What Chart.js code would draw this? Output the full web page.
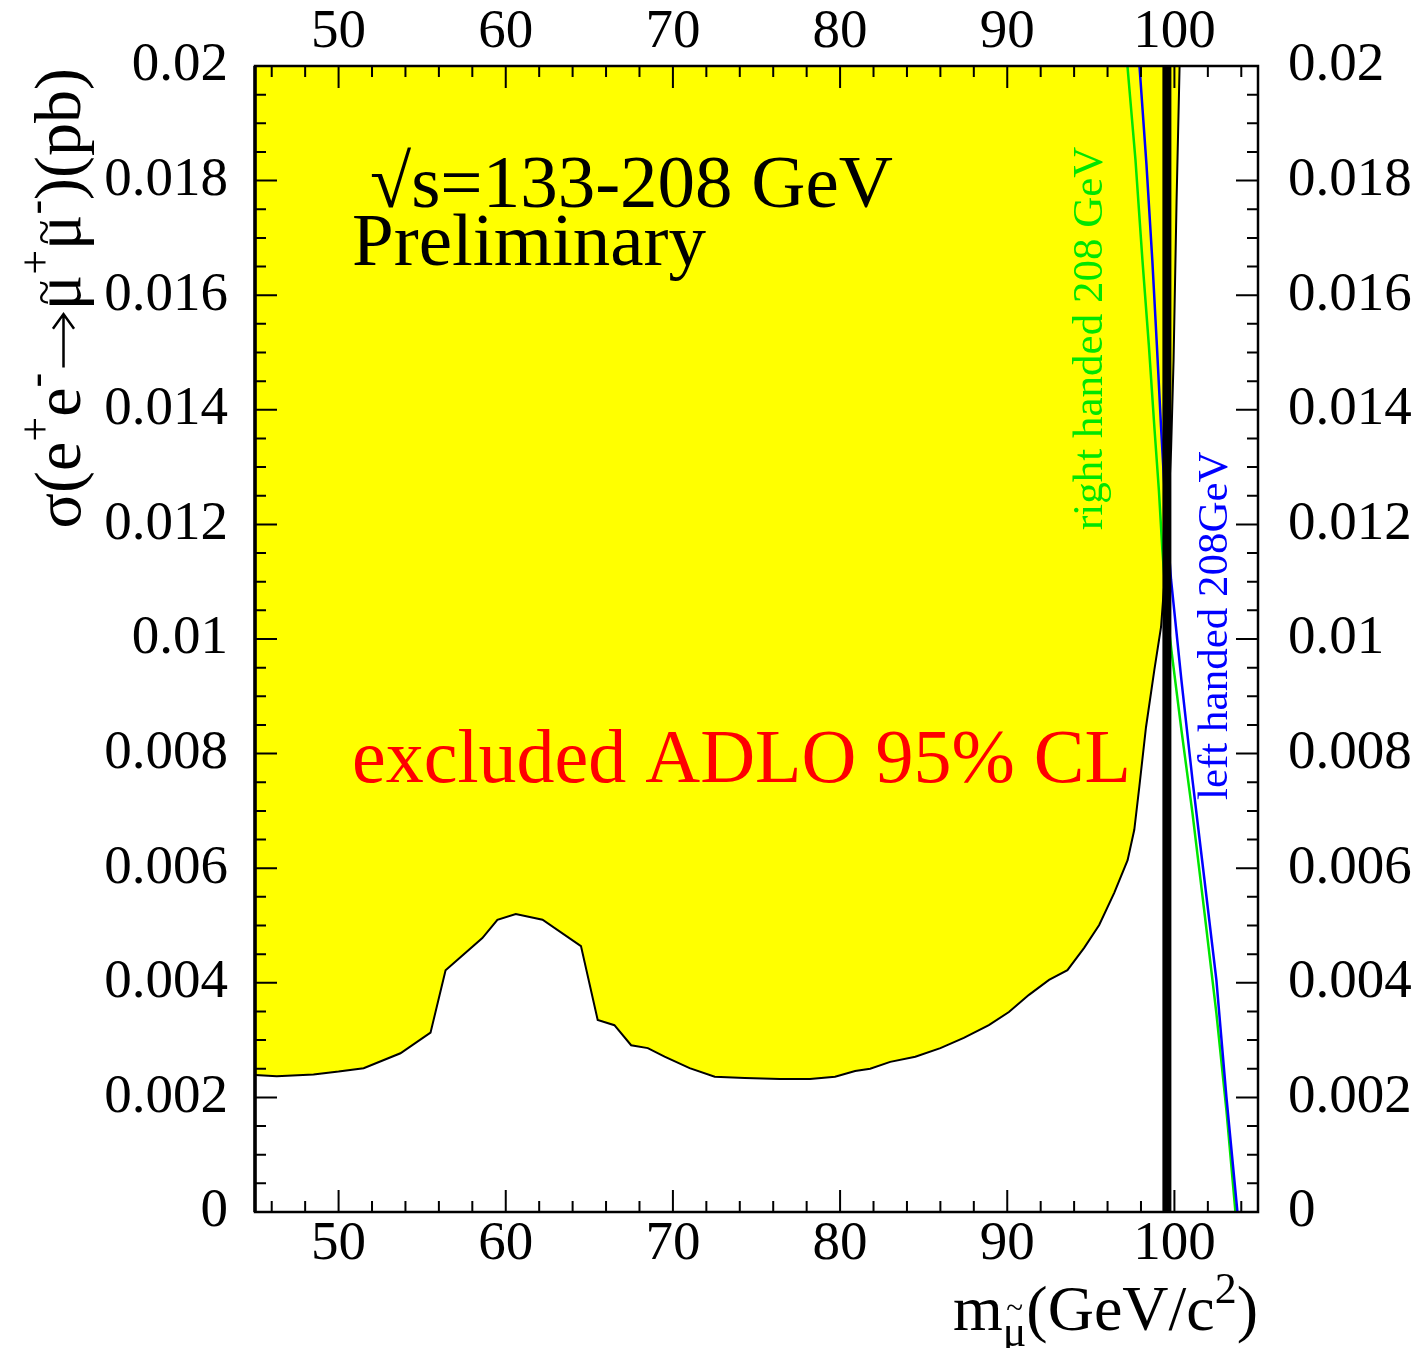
<!DOCTYPE html>
<html>
<head>
<meta charset="utf-8">
<script src="https://cdn.jsdelivr.net/npm/chart.js@4/dist/chart.umd.min.js"></script>
<style>
html,body{margin:0;padding:0;background:#fff;}
#plot{display:block;}
</style>
</head>
<body>
<canvas id="plot" width="1416" height="1348"></canvas>
<script>
const SERIF='"Liberation Serif", "Times New Roman", serif';

// excluded region boundary (95% CL upper limit)
const massBound=[45.0,46.3,48.5,50.0,51.5,53.7,55.5,56.4,58.6,59.5,60.6,62.2,64.5,65.5,66.5,67.5,68.5,69.5,71.0,72.5,74.3,76.4,78.2,79.7,80.9,81.8,83.0,84.5,86.0,87.4,88.9,90.1,91.3,92.5,93.6,94.6,95.5,96.4,97.2,97.6,97.9,98.3,98.8,99.2,99.5,99.8,99.95,100.13,100.31];
const sigmaBound=[0.00239,0.00237,0.00240,0.00245,0.00251,0.00277,0.00313,0.00422,0.00478,0.00510,0.00520,0.00510,0.00464,0.00335,0.00326,0.00291,0.00286,0.00271,0.00251,0.00236,0.00234,0.00232,0.00232,0.00236,0.00246,0.00250,0.00262,0.00271,0.00286,0.00304,0.00326,0.00349,0.00379,0.00405,0.00422,0.00461,0.00501,0.00557,0.00614,0.00667,0.00742,0.00846,0.00946,0.01021,0.01138,0.0133,0.01487,0.01766,0.02];

// expected cross sections at 208 GeV
const massRight=[97.19,97.67,98.09,98.47,98.80,99.07,99.28,99.52,99.82,100.42,101.08,101.80,102.51,103.11,103.65];
const sigmaRight=[0.0200,0.01836,0.0166,0.01513,0.0137,0.0126,0.01155,0.01059,0.0098,0.00841,0.00696,0.00522,0.00347,0.00178,0];
const massLeft=[97.91,98.33,98.68,98.95,99.20,99.46,99.80,100.42,101.08,101.80,102.51,103.11,103.77];
const sigmaLeft=[0.0200,0.01827,0.0166,0.01513,0.0137,0.01234,0.01103,0.00928,0.00754,0.00579,0.00405,0.00201,0];

// mass limit line
const limitMass=[99.55,99.55];
const limitSigma=[0,0.02];

const massTicks=[50,60,70,80,90,100];
const sigmaTicks=[0,0.002,0.004,0.006,0.008,0.01,0.012,0.014,0.016,0.018,0.02];

function pts(xs,ys){ return xs.map((x,i)=>({x:x,y:ys[i]})); }

function massAxis(pos,h){
  return {
    type:'linear',position:pos,min:45,max:105,
    grid:{display:false,drawTicks:false},border:{display:false},
    ticks:{color:'#000',font:{family:SERIF,size:55},padding:0,maxRotation:0,autoSkip:false},
    afterBuildTicks:s=>{ s.ticks=massTicks.map(v=>({value:v})); },
    afterFit:s=>{ s.height=h; }
  };
}
function sigmaAxis(pos,w,pad){
  return {
    type:'linear',position:pos,min:0,max:0.02,
    grid:{display:false,drawTicks:false},border:{display:false},
    ticks:{color:'#000',font:{family:SERIF,size:55},padding:pad,autoSkip:false,
      callback:v=>String(parseFloat(v.toFixed(4)))},
    afterBuildTicks:s=>{ s.ticks=sigmaTicks.map(v=>({value:v})); },
    afterFit:s=>{ s.width=w; }
  };
}

// text made of pieces: [text, size, baseline shift, tilde offset]; '->' is a drawn arrow
function drawRich(ctx,parts,x,y,align){
  let total=0;
  parts.forEach(p=>{
    ctx.font=p[1]+'px '+SERIF;
    p.w=p[0]==='->'?p[1]*0.95:ctx.measureText(p[0]).width;
    total+=p.w;
  });
  let cx=align==='right'?x-total:x;
  ctx.textAlign='left';
  ctx.textBaseline='alphabetic';
  parts.forEach(p=>{
    if(p[0]==='->'){
      const ay=y-p[1]*0.25, x0=cx+p[1]*0.08, x1=cx+p.w-p[1]*0.06;
      ctx.save();
      ctx.strokeStyle=ctx.fillStyle;
      ctx.lineWidth=2.5;
      ctx.beginPath();
      ctx.moveTo(x0,ay); ctx.lineTo(x1,ay);
      ctx.moveTo(x1-p[1]*0.22,ay-p[1]*0.16); ctx.lineTo(x1,ay); ctx.lineTo(x1-p[1]*0.22,ay+p[1]*0.16);
      ctx.stroke();
      ctx.restore();
    }else{
      ctx.font=p[1]+'px '+SERIF;
      ctx.fillText(p[0],cx,y+p[2]);
      if(p[3]){
        ctx.font=Math.round(p[1]*0.7)+'px '+SERIF;
        ctx.textAlign='center';
        ctx.fillText('~',cx+p.w/2,y+p[2]+p[3]);
        ctx.textAlign='left';
      }
    }
    cx+=p.w;
  });
}

const decor={
  id:'decor',
  afterDatasetsDraw(chart){
    const {ctx,chartArea:a,scales:{x,y}}=chart;
    ctx.save();
    ctx.strokeStyle='#000';
    ctx.lineWidth=2;
    ctx.beginPath();
    for(let m=46;m<=104;m+=2){
      const px=x.getPixelForValue(m);
      const len=m%10===0?22:11;
      ctx.moveTo(px,a.bottom); ctx.lineTo(px,a.bottom-len);
      ctx.moveTo(px,a.top); ctx.lineTo(px,a.top+len);
    }
    for(let k=1;k<40;k++){
      const py=y.getPixelForValue(k*0.0005);
      const len=k%4===0?22:11;
      ctx.moveTo(a.left,py); ctx.lineTo(a.left+len,py);
      ctx.moveTo(a.right,py); ctx.lineTo(a.right-len,py);
    }
    ctx.stroke();
    ctx.lineWidth=2.5;
    ctx.strokeRect(a.left,a.top,a.right-a.left,a.bottom-a.top);
    ctx.lineWidth=3.5;
    ctx.beginPath();
    ctx.moveTo(a.left,a.top); ctx.lineTo(a.left,a.bottom);
    ctx.stroke();
    ctx.restore();
  },
  afterDraw(chart){
    const ctx=chart.ctx;
    ctx.save();
    ctx.fillStyle='#000';
    ctx.textBaseline='alphabetic';
    ctx.font='75px '+SERIF;
    ctx.fillText('\u221As=133-208 GeV',370,207);
    ctx.fillText('Preliminary',352,265);
    ctx.fillStyle='#ff0000';
    ctx.font='76px '+SERIF;
    ctx.fillText('excluded ADLO 95% CL',352,782);

    // labels along the theory curves
    ctx.save();
    ctx.translate(1102,530);
    ctx.rotate(-Math.PI/2);
    ctx.fillStyle='#00e600';
    ctx.font='43px '+SERIF;
    ctx.fillText('right handed 208 GeV',0,0);
    ctx.restore();
    ctx.save();
    ctx.translate(1227,800);
    ctx.rotate(-Math.PI/2);
    ctx.fillStyle='#0000ff';
    ctx.font='43px '+SERIF;
    ctx.fillText('left handed 208GeV',0,0);
    ctx.restore();

    // axis titles
    ctx.fillStyle='#000';
    drawRich(ctx,[['m',64,0],['\u03BC',44,16,-28],['(GeV/c',64,0],['2',44,-27],[')',64,0]],1258,1330,'right');
    ctx.save();
    ctx.translate(80,68);
    ctx.rotate(-Math.PI/2);
    drawRich(ctx,[['\u03C3(e',66,0],['+',44,-30],['e',66,0],['-',44,-30],['->',66,0],['\u03BC',66,0,-21],['+',44,-30],['\u03BC',66,0,-21],['-',44,-30],[')(pb)',66,0]],0,0,'right');
    ctx.restore();
    ctx.restore();
  }
};

new Chart(document.getElementById('plot'),{
  type:'line',
  data:{
    datasets:[
      {data:pts(massBound,sigmaBound),fill:'end',backgroundColor:'#ffff00',borderColor:'#000',borderWidth:2,pointRadius:0,tension:0,order:4},
      {data:pts(massRight,sigmaRight),fill:false,borderColor:'#00e600',borderWidth:2.5,pointRadius:0,tension:0,order:3},
      {data:pts(massLeft,sigmaLeft),fill:false,borderColor:'#0000ff',borderWidth:2.5,pointRadius:0,tension:0,order:2},
      {data:pts(limitMass,limitSigma),fill:false,borderColor:'#000',borderWidth:9,pointRadius:0,order:1}
    ]
  },
  options:{
    responsive:false,animation:false,devicePixelRatio:1,
    layout:{padding:0},
    plugins:{legend:{display:false},tooltip:{enabled:false}},
    scales:{
      x:massAxis('bottom',136),
      x2:massAxis('top',66),
      y:sigmaAxis('left',255,27),
      y2:sigmaAxis('right',158,30)
    }
  },
  plugins:[decor]
});
</script>
</body>
</html>
